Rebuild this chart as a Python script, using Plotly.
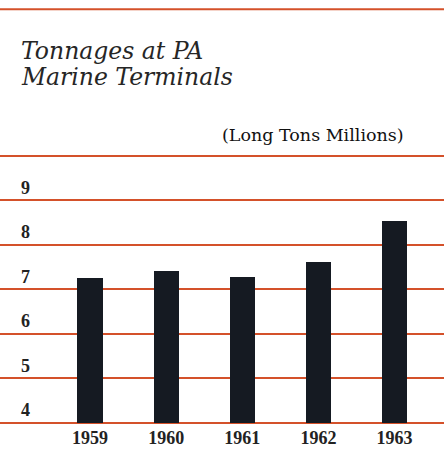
import plotly.graph_objects as go

years = [1959, 1960, 1961, 1962, 1963]
tonnage = [7.25, 7.40, 7.27, 7.62, 8.52]
y_ticks = [4, 5, 6, 7, 8, 9, 10]
y_ticktext = ["4", "5", "6", "7", "8", "9", ""]
baseline = 4

title_lines = ["Tonnages at PA", "Marine Terminals"]
subtitle = "(Long Tons Millions)"

RED = "#d4512a"
INK = "#151a22"

PLOT_H = 463 - 38  # plot area height in px
Y_MIN = 4 - 2.3 / 44.53

fig = go.Figure()
fig.add_trace(go.Bar(
    x=years,
    y=[v - baseline for v in tonnage],
    base=baseline,
    width=0.33,
    marker=dict(color=INK, line=dict(width=0)),
))

fig.update_layout(
    width=444, height=463,
    margin=dict(l=0, r=0, t=0, b=38, pad=0),
    paper_bgcolor="white", plot_bgcolor="white",
    showlegend=False,
    bargap=0,
    xaxis=dict(
        range=[1957.817, 1963.65],
        tickvals=years,
        ticktext=[str(y) for y in years],
        showgrid=False, zeroline=False, showline=False, ticks="",
        automargin=False,
        tickfont=dict(family="Liberation Serif", size=18, color="#222", weight="bold"),
        ticklabelstandoff=0,
    ),
    yaxis=dict(
        range=[Y_MIN, Y_MIN + PLOT_H / 44.53],
        tickvals=y_ticks,
        ticktext=y_ticktext,
        showgrid=True, gridcolor=RED, gridwidth=2,
        zeroline=False, showline=False, ticks="",
        automargin=False,
        ticklabelposition="inside top",
        ticklabelstandoff=18,
        tickfont=dict(family="Liberation Serif", size=18, color="#222", weight="bold"),
    ),
    shapes=[dict(type="line", xref="paper", yref="paper", x0=0, x1=1,
                 y0=(PLOT_H - 9.3) / PLOT_H, y1=(PLOT_H - 9.3) / PLOT_H,
                 line=dict(color=RED, width=2), layer="below")],
    annotations=[
        dict(text=title_lines[0], xref="paper", yref="paper", x=19 / 444, y=(PLOT_H - 51) / PLOT_H,
             xanchor="left", yanchor="middle", showarrow=False,
             font=dict(family="DejaVu Serif", size=23.5, style="italic", color="#262626")),
        dict(text=title_lines[1], xref="paper", yref="paper", x=19 / 444, y=(PLOT_H - 77) / PLOT_H,
             xanchor="left", yanchor="middle", showarrow=False,
             font=dict(family="DejaVu Serif", size=23.5, style="italic", color="#262626")),
        dict(text=subtitle, xref="paper", yref="paper", x=406 / 444, y=(PLOT_H - 135) / PLOT_H,
             xanchor="right", yanchor="middle", showarrow=False,
             font=dict(family="DejaVu Serif", size=17.5, color="#111")),
    ],
)

fig.write_html("out.html", config={"displayModeBar": False},
               post_script="document.body.style.margin='0';")
